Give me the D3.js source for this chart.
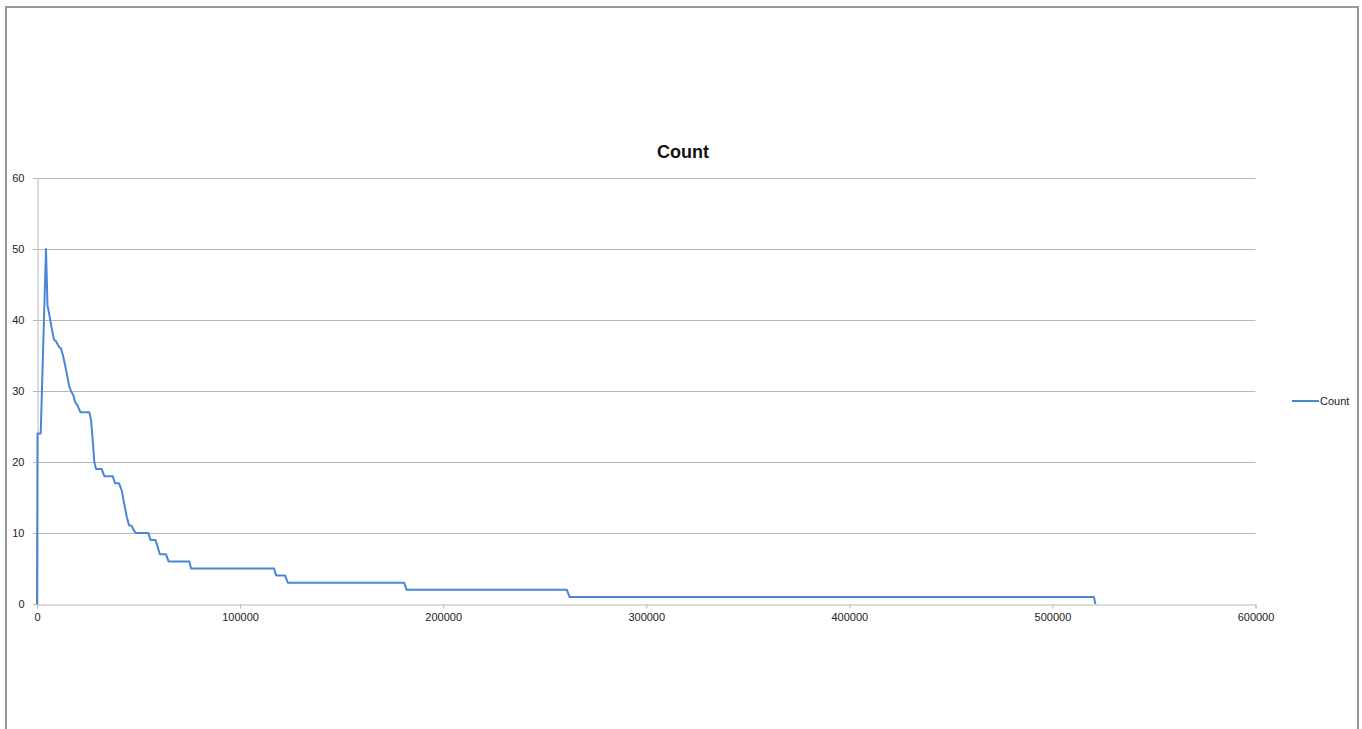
<!DOCTYPE html>
<html>
<head>
<meta charset="utf-8">
<script src="https://d3js.org/d3.v7.min.js"></script>
<style>
  html, body { margin: 0; padding: 0; background: #fff; }
  svg { display: block; }
</style>
</head>
<body>
<svg id="chart" width="1362" height="729"></svg>
<script>
// Series: x position and count along the curve
const xValues = [0, 250, 1820, 4430, 5170, 5910, 7140, 8370, 9360, 10840, 11820, 12810,
  13790, 14780, 15910, 16750, 17880, 18720, 19850, 21430, 25760, 26600, 27440, 28230,
  29060, 31870, 33150, 37290, 38420, 40390, 41720, 42860, 44190, 45320, 46650, 47780,
  48770, 54830, 55910, 58380, 60490, 63550, 64780, 75020, 75860, 116740, 117730, 122160,
  123500, 180780, 182020, 260930, 262210, 520430, 521170];
const countValues = [0, 24, 24, 50, 42, 41, 39, 37.2, 37, 36.2, 36, 35,
  33.7, 32.3, 30.6, 30, 29.4, 28.5, 28, 27, 27, 26, 23, 20,
  19, 19, 18, 18, 17, 17, 16, 14.2, 12.3, 11.1, 11, 10.3,
  10, 10, 9, 9, 7, 7, 6, 6, 5, 5, 4, 4,
  3, 3, 2, 2, 1, 1, 0];

const xTicks = [0, 100000, 200000, 300000, 400000, 500000, 600000];
const yTicks = [0, 10, 20, 30, 40, 50, 60];
const seriesName = "Count";
const chartTitle = "Count";

const svg = d3.select("#chart");

// Outer frame
svg.append("path")
  .attr("d", "M6,729 L6,7 L1358,7 L1358,729")
  .attr("fill", "none")
  .attr("stroke", "#999")
  .attr("stroke-width", 2);

const x = d3.scaleLinear().domain([0, 600000]).range([37, 1255.5]);
const y = d3.scaleLinear().domain([0, 60]).range([604, 178]);

// Horizontal gridlines
svg.append("g")
  .selectAll("line")
  .data(yTicks.filter(d => d > 0))
  .join("line")
  .attr("x1", 33)
  .attr("x2", x(600000))
  .attr("y1", d => Math.round(y(d)) + 0.5)
  .attr("y2", d => Math.round(y(d)) + 0.5)
  .attr("stroke", "#b8b8b8")
  .attr("stroke-width", 1);

// Y axis
const yAxis = svg.append("g")
  .attr("transform", "translate(37.5,0)")
  .call(d3.axisLeft(y).tickValues(yTicks).tickSize(4).tickPadding(9));
yAxis.select(".domain").attr("stroke", "#b8b8b8");
yAxis.selectAll(".tick line").attr("stroke", "#b8b8b8");
yAxis.selectAll(".tick text")
  .attr("fill", "#222")
  .style("font-family", "'Liberation Sans', Arial, sans-serif")
  .style("font-size", "11px");

// X axis
const xAxis = svg.append("g")
  .attr("transform", "translate(0,604.5)")
  .call(d3.axisBottom(x).tickValues(xTicks).tickSize(4).tickPadding(5).tickFormat(d3.format("d")));
xAxis.select(".domain").attr("stroke", "#b8b8b8");
xAxis.selectAll(".tick line").attr("stroke", "#b8b8b8");
xAxis.selectAll(".tick text")
  .attr("fill", "#222")
  .style("font-family", "'Liberation Sans', Arial, sans-serif")
  .style("font-size", "11px");

// Series line
const pts = xValues.map((v, i) => [v, countValues[i]]);
const line = d3.line().x(d => x(d[0])).y(d => y(d[1]));
svg.append("path")
  .datum(pts)
  .attr("d", line)
  .attr("fill", "none")
  .attr("stroke", "#4a86d6")
  .attr("stroke-width", 2)
  .attr("stroke-linejoin", "round");

// Title
svg.append("text")
  .attr("x", 683)
  .attr("y", 158)
  .attr("text-anchor", "middle")
  .style("font-family", "'Liberation Sans', Arial, sans-serif")
  .style("font-weight", "bold")
  .style("font-size", "18px")
  .attr("fill", "#111")
  .text(chartTitle);

// Legend
const legend = svg.append("g").attr("transform", "translate(1292,401)");
legend.append("line")
  .attr("x1", 0).attr("x2", 27)
  .attr("y1", 0).attr("y2", 0)
  .attr("stroke", "#4a86d6")
  .attr("stroke-width", 2);
legend.append("text")
  .attr("x", 28)
  .attr("y", 0)
  .attr("dy", "0.35em")
  .style("font-family", "'Liberation Sans', Arial, sans-serif")
  .style("font-size", "11px")
  .attr("fill", "#222")
  .text(seriesName);
</script>
</body>
</html>
